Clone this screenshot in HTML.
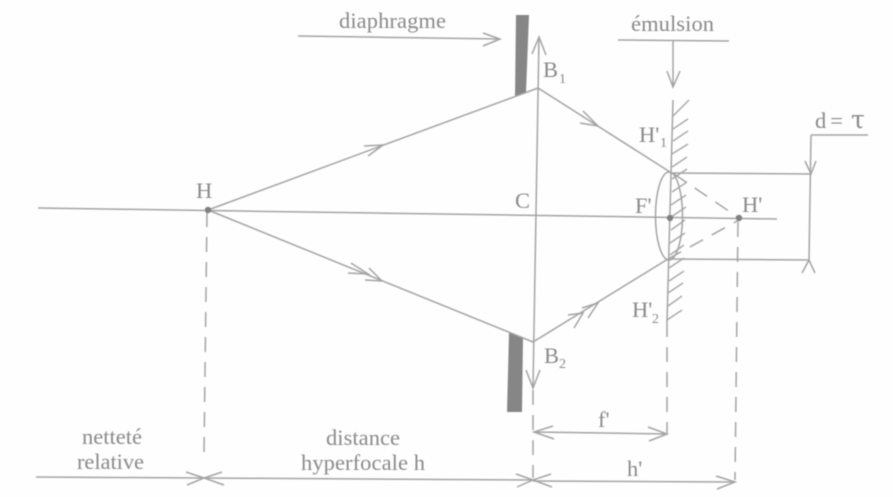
<!DOCTYPE html>
<html><head><meta charset="utf-8"><style>
html,body{margin:0;padding:0;background:#fefefe;width:893px;height:497px;overflow:hidden}
svg{display:block;filter:blur(.5px)}
text{font-family:"Liberation Serif",serif;fill:#8a8a8a;font-size:22.5px}
.l{stroke:#a4a4a4;stroke-width:1.5;fill:none}
.d{stroke:#a4a4a4;stroke-width:1.5;fill:none;stroke-dasharray:15 10}
.h{stroke:#a8a8a8;stroke-width:1.4;fill:none}
.s{font-size:14px}
</style></head><body>
<svg width="893" height="497" viewBox="0 0 893 497" xmlns="http://www.w3.org/2000/svg">
<polygon points="516,15 529,15 526,92 515,97" fill="#868686"/>
<polygon points="509,333 523,337 522,412 507,412" fill="#868686"/>
<path class="l" d="M38,208 L777,219"/>
<path class="l" d="M539,37 L533,388"/>
<path class="l" d="M532,54 L539,37 L546,55 M526,370 L533,388 L540,370"/>
<path class="l" d="M208,210 L538,88 L670,172 M208,210 L533,342 L668,259"/>
<path class="l" d="M364,146 L383,145 L368,156 M365,280 L382,281 L369,268 M348,273 L368,274 L351,263 M583,111 L598,126 L580,123 M582,308 L598,303 L588,318 M568,315 L583,313 L574,328"/>
<path class="l" d="M298,36 L500,39 M483,33 L500,39 L483,46"/>
<path class="l" d="M618,40 L729,41 M673,41 L673,87 M667,71 L673,87 L680,71"/>
<path class="l" d="M673,100 L667,322"/>
<path class="h" d="M673,116 L689,100 M673,129 L688,119 M673,141 L688,131 M672,154 L688,144 M672,167 L687,157 M672,179 L687,169 M672,192 L687,182 M671,205 L686,195 M671,217 L686,207 M671,230 L685,220 M670,243 L685,233 M670,255 L684,245 M669,268 L684,258 M669,281 L684,271 M668,293 L683,283 M668,306 L682,296 M667,320 L682,310"/>
<ellipse class="l" cx="669" cy="216" rx="13.5" ry="44"/>
<path class="l" d="M670,173 L811,174 M668,259 L809,260 M811,135 L809,260 M811,135 L868,135"/>
<path class="l" d="M805,161 L811,174 L816,161 M802,273 L809,260 L815,273"/>
<path class="d" d="M674,174 L739,218 M668,259 L739,220"/>
<path class="d" d="M207,212 L204,453"/>
<path class="d" d="M738,222 L735,480"/>
<path class="d" d="M533,390 L533,478"/>
<path class="d" d="M667,322 L667,433"/>
<path class="l" d="M534,432 L667,434 M553,426 L534,432 L554,439 M648,427 L667,434 L649,441"/>
<path class="l" d="M36,477 L533,480 M533,481 L735,482"/>
<path class="l" d="M186,472 L204,478 L187,485 M222,472 L204,478 L224,485"/>
<path class="l" d="M516,474 L533,480 L517,487 M551,474 L533,480 L552,487 M716,476 L735,482 L717,489"/>
<g fill="#808080" stroke="none">
<circle cx="208" cy="210" r="3.2"/><circle cx="670" cy="218" r="3.2"/><circle cx="739" cy="218" r="3.2"/>
</g>
<text x="339" y="28" textLength="107">diaphragme</text>
<text x="631" y="31" textLength="83">émulsion</text>
<text x="543" y="77">B</text><text x="559" y="83" class="s">1</text>
<text x="544" y="363">B</text><text x="559" y="368" class="s">2</text>
<text x="639" y="142">H'</text><text x="660" y="147" class="s">1</text>
<text x="632" y="317">H'</text><text x="652" y="323" class="s">2</text>
<text x="196" y="198">H</text>
<text x="515" y="208">C</text>
<text x="635" y="213">F'</text>
<text x="742" y="212">H'</text>
<text x="815" y="128" textLength="28">d =</text>
<text x="851" y="128" style="font-family:'DejaVu Serif',serif;font-size:25px">τ</text>
<text x="598" y="427">f'</text>
<text x="627" y="476">h'</text>
<text x="82" y="444" textLength="60">netteté</text>
<text x="77" y="469" textLength="67">relative</text>
<text x="326" y="445" textLength="74">distance</text>
<text x="301" y="470" textLength="124">hyperfocale h</text>
</svg>
</body></html>
